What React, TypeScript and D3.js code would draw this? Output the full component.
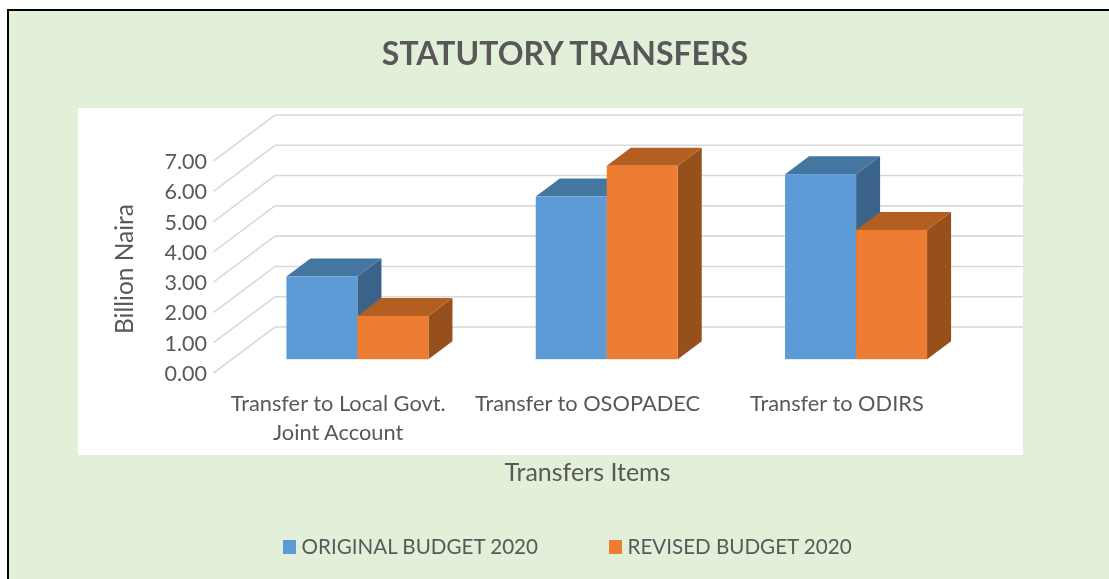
import * as d3 from "d3";

const categories = [["Transfer to Local Govt.", "Joint Account"], ["Transfer to OSOPADEC"], ["Transfer to ODIRS"]];
const seriesNames = ["ORIGINAL BUDGET 2020", "REVISED BUDGET 2020"];
const originalBudget = [2.73, 5.37, 6.11];
const revisedBudget = [1.43, 6.39, 4.27];
const yTicks = [0, 1, 2, 3, 4, 5, 6, 7];

const FONT = "Lato, 'Open Sans', sans-serif";
const TEXT = "#595959";
const palette = [
  { front: "#5b9bd5", top: "#4574a1", side: "#3a6489" },
  { front: "#ed7d31", top: "#b35e21", side: "#974f1b" },
];

// 3D frame: front floor edge, and how far the back wall is pushed
const plot = { x0: 213.5, x1: 961.5, yBottom: 373, yTop: 161 };
const wall = { dx: 61.5, dy: -46 };
const barDepth = { dx: 24, dy: -18 };
const depthStart = 0.3;

const x = d3.scaleBand<number>().domain([0, 1, 2]).range([plot.x0, plot.x1]);
const y = d3.scaleLinear().domain([0, 7]).range([plot.yBottom, plot.yTop]);
const groupWidth = 142;
const xSeries = d3.scaleBand<number>().domain([0, 1]).range([0, groupWidth]);
const line = d3.line();

function Bar({ cat, s, value }: { cat: number; s: number; value: number }) {
  const offX = wall.dx * depthStart + 0.8;
  const offY = wall.dy * depthStart;
  const left = x(cat)! + (x.bandwidth() - groupWidth) / 2 + offX + xSeries(s)!;
  const right = left + xSeries.bandwidth();
  const base = y(0) + offY;
  const top = y(value) + offY;
  const c = palette[s];
  const { dx, dy } = barDepth;
  return (
    <g>
      <path
        d={line([[right, top], [right + dx, top + dy], [right + dx, base + dy], [right, base]])! + "Z"}
        fill={c.side}
      />
      <path
        d={line([[left, top], [left + dx, top + dy], [right + dx, top + dy], [right, top]])! + "Z"}
        fill={c.top}
      />
      <rect x={left} y={top} width={right - left} height={base - top} fill={c.front} />
    </g>
  );
}

export default function App() {
  return (
    <svg
      width={1109}
      height={579}
      style={{ position: "absolute", left: 0, top: 0, fontFamily: FONT }}
    >
      <defs>
        <filter id="soft" x="-5%" y="-5%" width="110%" height="110%">
          <feGaussianBlur stdDeviation="0.5" />
        </filter>
        <filter id="softText" x="-5%" y="-5%" width="110%" height="110%">
          <feGaussianBlur stdDeviation="0.35" />
        </filter>
      </defs>
      <rect x={0} y={0} width={1109} height={579} fill="#ffffff" />
      <rect x={8} y={10} width={1130} height={600} fill="#e2efd9" stroke="#000000" strokeWidth={2} />
      <rect x={78} y={108} width={945} height={347} fill="#ffffff" />

      <g filter="url(#soft)">
        {yTicks.map((t) => (
          <path
            key={t}
            d={line([[plot.x0, y(t)], [plot.x0 + wall.dx, y(t) + wall.dy], [plot.x1 + wall.dx, y(t) + wall.dy]])!}
            fill="none"
            stroke="#d9d9d9"
            strokeWidth={1.6}
          />
        ))}
        {categories.map((_, i) => (
          <g key={i}>
            <Bar cat={i} s={0} value={originalBudget[i]} />
            <Bar cat={i} s={1} value={revisedBudget[i]} />
          </g>
        ))}
      </g>

      <g filter="url(#softText)">
        <text x={565} y={65} textAnchor="middle" fontSize={32} fontWeight={700} fill={TEXT}>
          STATUTORY TRANSFERS
        </text>

        {yTicks.map((t) => (
          <text key={t} x={207} y={y(t) + 8} textAnchor="end" fontSize={21.5} fill={TEXT}>
            {t.toFixed(2)}
          </text>
        ))}

        {categories.map((lines, i) =>
          lines.map((l, j) => (
            <text
              key={l}
              x={x(i)! + x.bandwidth() / 2}
              y={411 + j * 29}
              textAnchor="middle"
              fontSize={21.8}
              fill={TEXT}
            >
              {l}
            </text>
          ))
        )}

        <text
          transform="translate(133,269) rotate(-90)"
          textAnchor="middle"
          fontSize={24.5}
          fill={TEXT}
        >
          Billion Naira
        </text>
        <text x={587.5} y={481} textAnchor="middle" fontSize={25} fill={TEXT}>
          Transfers Items
        </text>

        {seriesNames.map((name, i) => {
          const lx = [283, 609][i];
          return (
            <g key={name}>
              <rect x={lx} y={540} width={13} height={14} fill={palette[i].front} />
              <text x={lx + 18.5} y={554} fontSize={20.6} fill={TEXT}>
                {name}
              </text>
            </g>
          );
        })}
      </g>
    </svg>
  );
}
